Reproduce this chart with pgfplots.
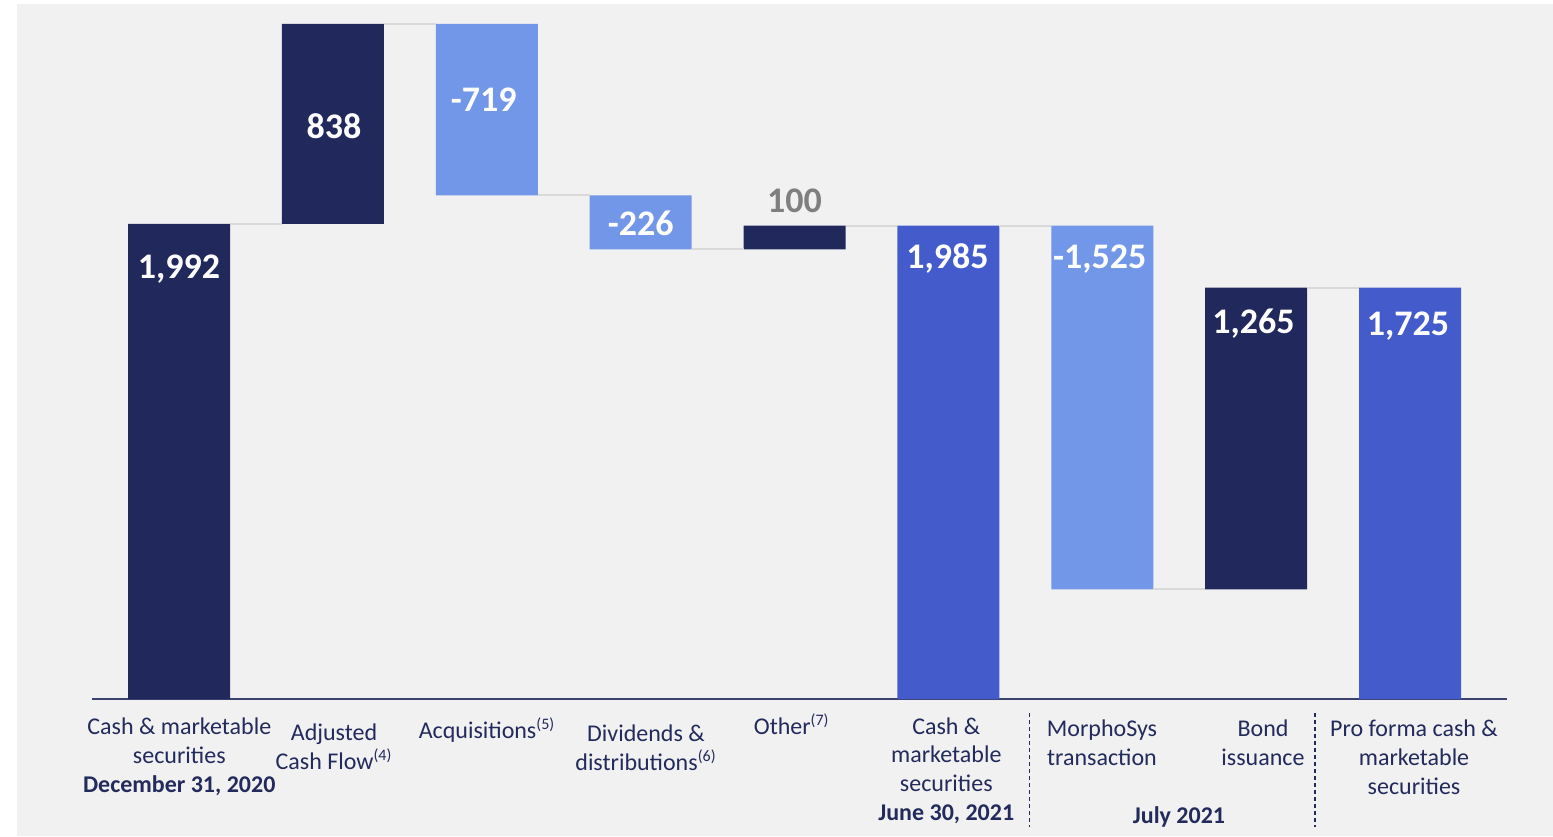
\documentclass[border=0pt]{standalone}
\usepackage{pgfplots}
\usepackage{pgfplotstable}
\pgfplotsset{compat=1.18}
\usepackage{fontspec}
\setmainfont{Carlito}

\definecolor{navy}{HTML}{20285C}
\definecolor{lightblue}{HTML}{7296E8}
\definecolor{midblue}{HTML}{445BCC}
\definecolor{labelnavy}{HTML}{232A5C}
\definecolor{bggray}{HTML}{F1F1F1}
\definecolor{connector}{HTML}{D9D9D9}
\definecolor{axisnavy}{HTML}{3C4270}
\definecolor{valgray}{HTML}{7F7F7F}

% Waterfall: invisible base plus one visible segment per bar colour
\pgfplotstableread{
idx base dark light medium
0   0    1992 0    0
1   1992 838  0    0
2   2111 0    719  0
3   1885 0    226  0
4   1885 100  0    0
5   0    0    0    1985
6   460  0    1525 0
7   460  1265 0    0
8   0    0    0    1725
}\waterfall

\newcommand{\valfont}{\bfseries\fontsize{18pt}{21pt}\selectfont}
\newcommand{\catfont}{\fontsize{12pt}{14.4pt}\selectfont}

\begin{document}
\begin{tikzpicture}
\fill[white] (-46pt,-68.5pt) rectangle (730.5pt,349.5pt);
\fill[bggray] (-37.5pt,-68.5pt) rectangle (730.5pt,347.5pt);
\useasboundingbox (-46pt,-68.5pt) rectangle (730.5pt,349.5pt);

\begin{axis}[
  at={(0pt,0pt)}, anchor=south west,
  scale only axis, width=707.5pt, height=337.5pt,
  xmin=-0.5654, xmax=8.6304, ymin=0, ymax=2830,
  ybar stacked, bar width=51pt,
  hide y axis, axis x line*=bottom, xtick=\empty,
  x axis line style={-, draw=axisnavy, line width=0.75pt},
  clip=false,
]
% connectors between consecutive bars
\draw[connector, line width=1pt]
  (axis cs:0.3315,1992) -- (axis cs:0.6685,1992)
  (axis cs:1.3315,2830) -- (axis cs:1.6685,2830)
  (axis cs:2.3315,2111) -- (axis cs:2.6685,2111)
  (axis cs:3.3315,1885) -- (axis cs:3.6685,1885)
  (axis cs:4.3315,1985) -- (axis cs:4.6685,1985)
  (axis cs:5.3315,1985) -- (axis cs:5.6685,1985)
  (axis cs:6.3315,460)  -- (axis cs:6.6685,460)
  (axis cs:7.3315,1725) -- (axis cs:7.6685,1725);

\addplot[draw=none, fill=none] table[x=idx, y=base]{\waterfall};
\addplot[draw=none, fill=navy] table[x=idx, y=dark]{\waterfall};
\addplot[draw=none, fill=lightblue] table[x=idx, y=light]{\waterfall};
\addplot[draw=none, fill=midblue] table[x=idx, y=medium]{\waterfall};

% anchor points for the value labels
\coordinate (v0) at (axis cs:0,1765);
\coordinate (v1) at (axis cs:1.007,2348);
\coordinate (v2) at (axis cs:1.98,2463);
\coordinate (v3) at (axis cs:3.0,1943);
\coordinate (v4) at (axis cs:4.0,2038);
\coordinate (v5) at (axis cs:4.994,1803);
\coordinate (v6) at (axis cs:5.983,1803);
\coordinate (v7) at (axis cs:6.983,1534);
\coordinate (v8) at (axis cs:7.987,1526);
\end{axis}

% value labels, set over the bars
\begin{scope}[every node/.style={anchor=base, font=\valfont, text=white, inner sep=0pt}]
\node at (v0) {1,992};
\node at (v1) {838};
\node at (v2) {-719};
\node at (v3) {-226};
\node[text=valgray] at (v4) {100};
\node at (v5) {1,985};
\node at (v6) {-1,525};
\node at (v7) {1,265};
\node at (v8) {1,725};
\end{scope}

% category labels (anchored at the baseline of their last line)
\begin{scope}[every node/.style={anchor=base, align=center, font=\catfont, text=labelnavy, inner sep=0pt}]
\node at (43.65pt,-46.75pt) {Cash \& marketable\\securities\\\textbf{December 31, 2020}};
\node at (121pt,-35pt) {Adjusted\\Cash Flow\textsuperscript{(4)}};
\node at (197.5pt,-19.5pt) {Acquisitions\textsuperscript{(5)}};
\node at (277pt,-35.75pt) {Dividends \&\\distributions\textsuperscript{(6)}};
\node at (349.85pt,-17.5pt) {Other\textsuperscript{(7)}};
\node at (427.15pt,-60.75pt) {Cash \&\\marketable\\securities\\\textbf{June 30, 2021}};
\node at (505pt,-33.25pt) {MorphoSys\\transaction};
\node at (585.5pt,-33.25pt) {Bond\\issuance};
\node at (661pt,-47.75pt) {Pro forma cash \&\\marketable\\securities};
\node at (543.5pt,-62.25pt) {\textbf{July 2021}};
\end{scope}

% period separators
\draw[labelnavy, line width=0.7pt, dash pattern=on 2pt off 1.5pt] (468.75pt,-7pt) -- (468.75pt,-64pt);
\draw[labelnavy, line width=0.7pt, dash pattern=on 2pt off 1.5pt] (611.5pt,-7pt) -- (611.5pt,-64pt);
\end{tikzpicture}
\end{document}
